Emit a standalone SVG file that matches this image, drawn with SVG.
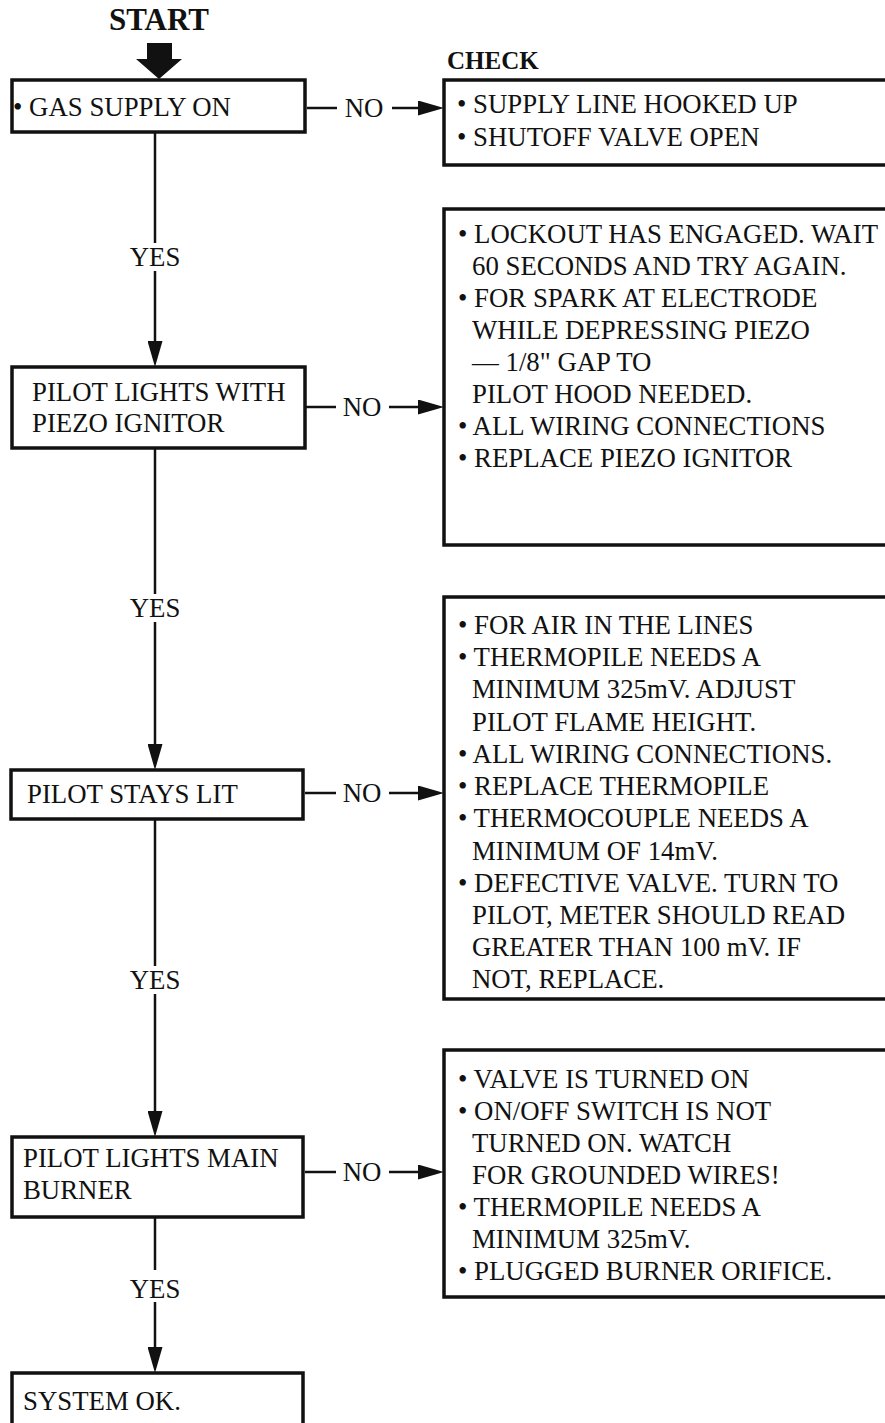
<svg xmlns="http://www.w3.org/2000/svg" width="885" height="1423" viewBox="0 0 885 1423">
<style>
text{font-family:"Liberation Serif","Times New Roman",serif;font-size:26.8px;fill:#111}
.b{font-weight:bold}
.yes{text-anchor:middle}
.box{fill:#fff;stroke:#111;stroke-width:3.5}
.c{stroke:#111;stroke-width:2.5;fill:none}
</style>
<defs>
<marker id="ah" markerUnits="userSpaceOnUse" viewBox="0 0 26 15" markerWidth="26" markerHeight="15" refX="6" refY="7.5" orient="auto">
<path d="M0,0 L26,7.5 L0,15 Z" fill="#111"/>
</marker>
</defs>
<rect width="885" height="1423" fill="#fff"/>

<g id="start">
<text class="b" x="159" y="30" text-anchor="middle" style="font-size:31px">START</text>
<polygon points="147,43 172,43 172,59 182,59 159,79 136,59 147,59" fill="#111"/>
</g>
<text class="b" x="447" y="69" style="font-size:25px">CHECK</text>

<g id="connectors">
<line class="c" x1="155" y1="132" x2="155" y2="243"/>
<line class="c" x1="155" y1="271" x2="155" y2="347" marker-end="url(#ah)"/>
<text class="yes" x="155" y="266">YES</text>
<line class="c" x1="155" y1="448" x2="155" y2="594"/>
<line class="c" x1="155" y1="622" x2="155" y2="750" marker-end="url(#ah)"/>
<text class="yes" x="155" y="617">YES</text>
<line class="c" x1="155" y1="819" x2="155" y2="966"/>
<line class="c" x1="155" y1="994" x2="155" y2="1117" marker-end="url(#ah)"/>
<text class="yes" x="155" y="989">YES</text>
<line class="c" x1="155" y1="1217" x2="155" y2="1270"/>
<line class="c" x1="155" y1="1302" x2="155" y2="1353" marker-end="url(#ah)"/>
<text class="yes" x="155" y="1298">YES</text>

<line class="c" x1="307" y1="108" x2="337" y2="108"/>
<text class="yes" x="364" y="117">NO</text>
<line class="c" x1="392" y1="108" x2="424" y2="108" marker-end="url(#ah)"/>
<line class="c" x1="305" y1="407" x2="336" y2="407"/>
<text class="yes" x="362" y="416">NO</text>
<line class="c" x1="389" y1="407" x2="424" y2="407" marker-end="url(#ah)"/>
<line class="c" x1="305" y1="793" x2="336" y2="793"/>
<text class="yes" x="362" y="802">NO</text>
<line class="c" x1="389" y1="793" x2="424" y2="793" marker-end="url(#ah)"/>
<line class="c" x1="305" y1="1172" x2="336" y2="1172"/>
<text class="yes" x="362" y="1181">NO</text>
<line class="c" x1="389" y1="1172" x2="424" y2="1172" marker-end="url(#ah)"/>
</g>

<g id="n1">
<rect class="box" x="12" y="80" width="293" height="52"/>
<text x="13" y="116">• GAS SUPPLY ON</text>
</g>
<g id="n2">
<rect class="box" x="12" y="367" width="293" height="81"/>
<text x="32" y="401">PILOT LIGHTS WITH</text>
<text x="32" y="432">PIEZO IGNITOR</text>
</g>
<g id="n3">
<rect class="box" x="11" y="770" width="292" height="49"/>
<text x="27" y="803">PILOT STAYS LIT</text>
</g>
<g id="n4">
<rect class="box" x="12" y="1137" width="291" height="80"/>
<text x="23" y="1167">PILOT LIGHTS MAIN</text>
<text x="23" y="1199">BURNER</text>
</g>
<g id="n5">
<rect class="box" x="12" y="1373" width="291" height="60"/>
<text x="23" y="1410">SYSTEM OK.</text>
</g>

<g id="c1">
<rect class="box" x="444" y="80" width="460" height="85"/>
<text x="457" y="113">• SUPPLY LINE HOOKED UP</text>
<text x="457" y="146">• SHUTOFF VALVE OPEN</text>
</g>
<g id="c2">
<rect class="box" x="444" y="209" width="460" height="336"/>
<text x="458" y="243">• LOCKOUT HAS ENGAGED. WAIT</text>
<text x="472" y="275">60 SECONDS AND TRY AGAIN.</text>
<text x="458" y="307">• FOR SPARK AT ELECTRODE</text>
<text x="472" y="339">WHILE DEPRESSING PIEZO</text>
<text x="472" y="371">— 1/8" GAP TO</text>
<text x="472" y="403">PILOT HOOD NEEDED.</text>
<text x="458" y="435">• ALL WIRING CONNECTIONS</text>
<text x="458" y="467">• REPLACE PIEZO IGNITOR</text>
</g>
<g id="c3">
<rect class="box" x="444" y="597" width="460" height="402"/>
<text x="458" y="634">• FOR AIR IN THE LINES</text>
<text x="458" y="666">• THERMOPILE NEEDS A</text>
<text x="472" y="698">MINIMUM 325mV. ADJUST</text>
<text x="472" y="731">PILOT FLAME HEIGHT.</text>
<text x="458" y="763">• ALL WIRING CONNECTIONS.</text>
<text x="458" y="795">• REPLACE THERMOPILE</text>
<text x="458" y="827">• THERMOCOUPLE NEEDS A</text>
<text x="472" y="860">MINIMUM OF 14mV.</text>
<text x="458" y="892">• DEFECTIVE VALVE. TURN TO</text>
<text x="472" y="924">PILOT, METER SHOULD READ</text>
<text x="472" y="956">GREATER THAN 100 mV. IF</text>
<text x="472" y="988">NOT, REPLACE.</text>
</g>
<g id="c4">
<rect class="box" x="444" y="1050" width="460" height="247"/>
<text x="458" y="1088">• VALVE IS TURNED ON</text>
<text x="458" y="1120">• ON/OFF SWITCH IS NOT</text>
<text x="472" y="1152">TURNED ON. WATCH</text>
<text x="472" y="1184">FOR GROUNDED WIRES!</text>
<text x="458" y="1216">• THERMOPILE NEEDS A</text>
<text x="472" y="1248">MINIMUM 325mV.</text>
<text x="458" y="1280">• PLUGGED BURNER ORIFICE.</text>
</g>
</svg>
